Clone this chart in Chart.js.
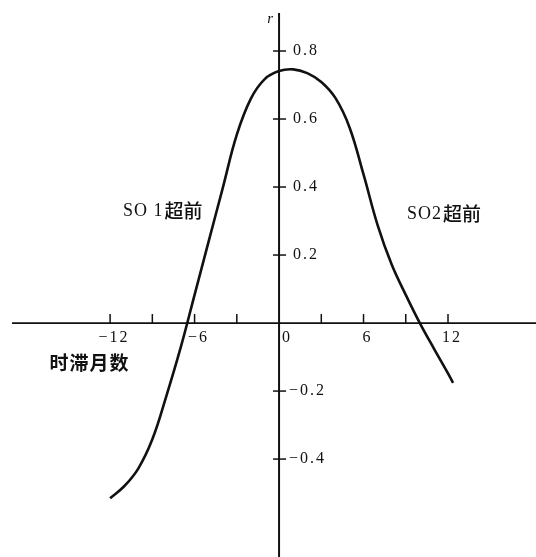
<!DOCTYPE html>
<html><head><meta charset="utf-8">
<script src="https://cdn.jsdelivr.net/npm/chart.js@4"></script>
<style>html,body{margin:0;padding:0;background:#fff;}canvas{display:block}</style>
</head><body>
<canvas id="c" width="536" height="557"></canvas>
<script>
// Lag (months) and correlation coefficient r
const lagMonths = [-12,-11,-10,-9,-8,-7,-6,-5,-4,-3,-2,-1,0,1,2,3,4,5,6,7,8,9,10,11,12,12.36];
const rValues   = [-0.515,-0.480,-0.428,-0.342,-0.214,-0.074,0.083,0.240,0.397,0.554,0.660,0.718,0.741,0.746,0.735,0.709,0.662,0.576,0.437,0.288,0.172,0.083,0.0,-0.075,-0.148,-0.176];

const xTickValues = [-12,-9,-6,-3,3,6,9,12];
const xLabelValues = [-12,-6,0,6,12];
const xLabelTexts  = ['−12','−6','0','6','12'];
const yTickValues = [0.8,0.6,0.4,0.2,-0.2,-0.4];
const yTickTexts  = ['0.8','0.6','0.4','0.2','−0.2','−0.4'];
const seriesNotes = ['SO 1超前','SO2超前'];
const xAxisTitle = '时滞月数';
const yAxisTitle = 'r';

const axesPlugin = {
  id: 'crossAxes',
  beforeDatasetsDraw(chart) {
    const ctx = chart.ctx;
    const xs = chart.scales.x, ys = chart.scales.y;
    const x0 = xs.getPixelForValue(0), y0 = ys.getPixelForValue(0);
    ctx.save();
    ctx.strokeStyle = '#111';
    ctx.lineCap = 'butt';
    // x axis
    ctx.lineWidth = 1.8;
    ctx.beginPath(); ctx.moveTo(12, y0); ctx.lineTo(chart.width, y0); ctx.stroke();
    // y axis
    ctx.lineWidth = 2;
    ctx.beginPath(); ctx.moveTo(x0, 13); ctx.lineTo(x0, chart.height); ctx.stroke();
    // x ticks (upward)
    ctx.lineWidth = 1.5;
    xTickValues.forEach(v => {
      const px = xs.getPixelForValue(v);
      ctx.beginPath(); ctx.moveTo(px, y0); ctx.lineTo(px, y0 - 9); ctx.stroke();
    });
    // y ticks (crossing)
    yTickValues.forEach(v => {
      const py = ys.getPixelForValue(v);
      ctx.beginPath(); ctx.moveTo(x0 - 6, py); ctx.lineTo(x0 + 7, py); ctx.stroke();
    });
    // labels
    ctx.fillStyle = '#111';
    if ('letterSpacing' in ctx) ctx.letterSpacing = '2px';
    ctx.font = '16px "Liberation Serif", "DejaVu Serif", serif';
    ctx.textBaseline = 'middle';
    ctx.textAlign = 'center';
    xLabelValues.forEach((v, i) => {
      const px = xs.getPixelForValue(v) + (v === 0 ? 8 : 4);
      ctx.fillText(xLabelTexts[i], px, y0 + 15);
    });
    ctx.textAlign = 'left';
    yTickValues.forEach((v, i) => {
      const py = ys.getPixelForValue(v);
      ctx.fillText(yTickTexts[i], x0 + (v < 0 ? 10 : 14), py);
    });
    if ('letterSpacing' in ctx) ctx.letterSpacing = '0px';
    // axis title r
    ctx.font = 'italic 15px "Liberation Serif", serif';
    ctx.textAlign = 'right';
    ctx.fillText(yAxisTitle, x0 - 6, 19);
    // series notes
    ctx.textAlign = 'left';
    const drawNote = (txt, xv, yv) => {
      const m = txt.match(/^([A-Za-z0-9 ]+)(.*)$/);
      let px = xs.getPixelForValue(xv);
      const py = ys.getPixelForValue(yv);
      ctx.font = '18px "Liberation Serif", serif';
      if ('letterSpacing' in ctx) ctx.letterSpacing = '1px';
      ctx.fillText(m[1], px, py);
      px += ctx.measureText(m[1]).width + 1;
      if ('letterSpacing' in ctx) ctx.letterSpacing = '0px';
      ctx.font = '500 19px "Noto Sans CJK SC", sans-serif';
      ctx.fillText(m[2], px, py);
    };
    drawNote(seriesNotes[0], -11.08, 0.33);
    drawNote(seriesNotes[1], 9.09, 0.32);
    ctx.font = 'bold 19px "Noto Sans CJK SC", sans-serif';
    if ('letterSpacing' in ctx) ctx.letterSpacing = '1px';
    ctx.fillText(xAxisTitle, xs.getPixelForValue(-16.3), ys.getPixelForValue(-0.118));
    ctx.restore();
  }
};

new Chart(document.getElementById('c'), {
  type: 'line',
  data: {
    datasets: [{
      data: lagMonths.map((m, i) => ({x: m, y: rValues[i]})),
      borderColor: '#111',
      borderWidth: 2.6,
      pointRadius: 0,
      fill: false,
      tension: 0.4
    }]
  },
  options: {
    responsive: false,
    animation: false,
    layout: {padding: 0},
    plugins: {legend: {display: false}, tooltip: {enabled: false}},
    scales: {
      x: {type: 'linear', min: -19.82, max: 18.25, display: false},
      y: {type: 'linear', min: -0.688, max: 0.95, display: false}
    }
  },
  plugins: [axesPlugin]
});
</script>
</body></html>
